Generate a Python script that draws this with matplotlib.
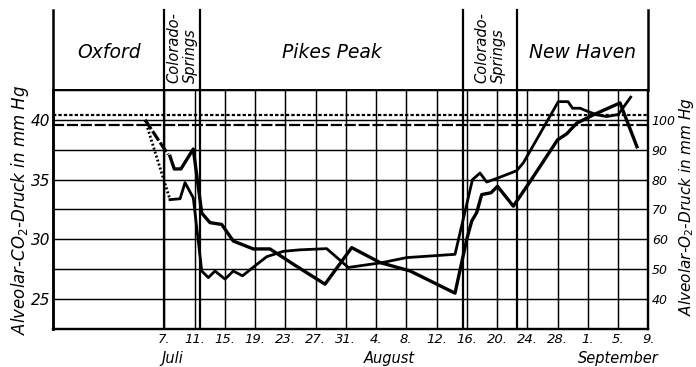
import matplotlib
matplotlib.use('Agg')
import matplotlib.pyplot as plt
import matplotlib.transforms as mtransforms
from matplotlib import font_manager as fm
import numpy as np

avail = {f.name for f in fm.fontManager.ttflist}
HAS_NARROW = 'Liberation Sans Narrow' in avail
NARROW = ['Liberation Sans Narrow', 'DejaVu Sans'] if HAS_NARROW else ['DejaVu Sans']

plt.rcParams['font.family'] = ['DejaVu Sans']
plt.rcParams['mathtext.fontset'] = 'dejavusans'
plt.rcParams['mathtext.default'] = 'it'
plt.rcParams['lines.scale_dashes'] = False

# ---------------- data ----------------
# x = day number counted from 30 June (July d = d, August d = 31+d, September d = 62+d)
tick_days = [7, 11, 15, 19, 23, 27, 31, 35, 39, 43, 47, 51, 55, 59, 63, 67, 71]
tick_labels = ['7.', '11.', '15.', '19.', '23.', '27.', '31.', '4.', '8.', '12.',
               '16.', '20.', '24.', '28.', '1.', '5.', '9.']
month_names = ['Juli', 'August', 'September']
month_pos = [8.0, 36.8, 67.0]

regions = ['Oxford', 'Colorado-\nSprings', 'Pikes Peak', 'Colorado-\nSprings', 'New Haven']
region_edges = [-7.72, 7.0, 11.75, 46.5, 53.7, 71.0]

co2_ticks = [25, 30, 35, 40]
o2_ticks = [40, 50, 60, 70, 80, 90, 100]

# normal values (horizontal reference lines)
co2_normal = 39.6      # long dashes (CO2 scale)
o2_normal = 101.7      # short dashes (O2 scale)

# alveolar CO2 (left scale) - interpolated start and measured values
co2_interp_x = [4.45, 7.5]
co2_interp_y = [40.0, 37.1]
co2_x = [7.75, 8.32, 9.2, 10.83, 11.95, 13.04, 14.59, 16.12, 18.77, 20.98, 24.06,
         28.25, 31.78, 35.52, 39.49, 45.44, 46.99, 47.65, 48.31, 48.97, 50.2, 51.06,
         53.15, 55.36, 59.0, 60.21, 61.53, 63.73, 67.26, 69.5]
co2_y = [36.95, 35.89, 35.9, 37.56, 32.2, 31.4, 31.25, 29.86, 29.2, 29.2, 27.92,
         26.25, 29.31, 28.06, 27.36, 25.5, 30.0, 31.53, 32.25, 33.75, 33.9, 34.44,
         32.78, 34.83, 38.33, 38.83, 39.72, 40.42, 41.42, 37.75]

# alveolar O2 (right scale) - interpolated start and measured values
o2_interp_x = [4.45, 7.75]
o2_interp_y = [100.0, 73.3]
o2_x = [7.75, 9.08, 9.74, 10.83, 11.95, 12.82, 13.7, 15.03, 16.12, 17.34, 18.77,
        20.54, 22.74, 24.94, 28.47, 31.33, 35.75, 39.05, 45.44, 47.75, 48.75, 49.63,
        51.17, 53.6, 54.47, 59.1, 60.38, 60.98, 61.97, 63.03, 64.18, 65.5, 67.03, 68.67]
o2_y = [73.3, 73.6, 79.0, 73.9, 49.4, 47.2, 49.4, 46.7, 49.4, 47.8, 50.7,
        54.2, 56.0, 56.5, 56.9, 50.6, 52.2, 53.9, 55.0, 80.0, 82.2, 79.2,
        80.6, 83.0, 85.6, 106.1, 106.1, 103.9, 103.9, 102.8, 101.7, 101.1, 101.8, 107.6]

# ---------------- figure ----------------
W, H = 696, 367
fig = plt.figure(figsize=(W / 100, H / 100), dpi=100)
fig.patch.set_facecolor('white')

L, R, T, B, TOPH = 53, 648.3, 90, 329, 10
ax = fig.add_axes([L / W, 1 - B / H, (R - L) / W, (B - T) / H])
ax.set_xlim(region_edges[0], region_edges[-1])
ax.set_ylim(22.5, 42.5)
ax2 = ax.twinx()
ax2.set_ylim(30, 110)

# grid
ax.set_xticks(tick_days)
ax.set_xticklabels(tick_labels, fontfamily=NARROW, fontstyle='italic',
                   fontsize=10.5 if HAS_NARROW else 9.5)
ax.tick_params(axis='x', length=0, pad=3)
ax.grid(axis='x', color='black', lw=1.05)
ax.set_yticks(co2_ticks)
ax.set_yticklabels([str(v) for v in co2_ticks], fontstyle='italic', fontsize=11)
ax.set_yticks(np.arange(22.5, 42.6, 2.5), minor=True)
ax.tick_params(axis='y', which='both', length=0, pad=2)
ax.grid(axis='y', which='both', color='black', lw=1.05)
ax.set_axisbelow(True)

ax2.set_yticks(o2_ticks)
ax2.set_yticklabels([str(v) for v in o2_ticks], fontfamily=NARROW, fontstyle='italic',
                    fontsize=10.5 if HAS_NARROW else 9)
ax2.tick_params(axis='y', length=0, pad=2.5)

for a in (ax, ax2):
    for s in a.spines.values():
        s.set_color('black')
    a.spines['left'].set_linewidth(1.8)
    a.spines['right'].set_linewidth(1.6)
    a.spines['bottom'].set_linewidth(1.6)
    a.spines['top'].set_linewidth(1.2)

# region dividers in plot
for xe in region_edges[1:-1]:
    ax.axvline(xe, color='black', lw=1.6, zorder=2)

# normal reference lines
ax.axhline(co2_normal, color='black', lw=1.6, dashes=(8, 2), zorder=3)
ax2.axhline(o2_normal, color='black', lw=1.6, dashes=(2.4, 1.5), zorder=3)

# data lines
ax.plot(co2_interp_x, co2_interp_y, color='black', lw=2.3, dashes=(8, 1.8),
        solid_capstyle='butt', zorder=4)
ax.plot(co2_x, co2_y, color='black', lw=2.4, zorder=4, solid_joinstyle='round')
ax2.plot(o2_interp_x, o2_interp_y, color='black', lw=2.0, dashes=(1.4, 1.6), zorder=4)
ax2.plot(o2_x, o2_y, color='black', lw=2.0, zorder=4, solid_joinstyle='round')

# month names
trans = mtransforms.blended_transform_factory(ax.transData, fig.transFigure)
for name, xp in zip(month_names, month_pos):
    ax.text(xp, 1 - 358 / H, name, transform=trans, ha='center', va='center',
            fontstyle='italic', fontsize=10.5, clip_on=False)

# axis labels
fig.text(20 / W, 1 - 210 / H, 'Alveolar-CO$_2$-Druck in mm Hg', rotation=90,
         ha='center', va='center', fontstyle='italic', fontsize=12)
fig.text(687 / W, 1 - 206 / H, 'Alveolar-O$_2$-Druck in mm Hg', rotation=90,
         ha='center', va='center', fontstyle='italic', fontsize=11)

# header with locations
hax = fig.add_axes([L / W, 1 - T / H, (R - L) / W, (T - TOPH) / H])
hax.set_xlim(region_edges[0], region_edges[-1])
hax.set_ylim(0, 1)
hax.axis('off')
for xe in region_edges:
    hax.axvline(xe, color='black', lw=1.8 if xe in (region_edges[0], region_edges[-1]) else 1.6,
                clip_on=False)
for i, name in enumerate(regions):
    cx = (region_edges[i] + region_edges[i + 1]) / 2
    if '\n' in name:
        hax.text(cx, 0.09, name, rotation=90, ha='center', va='bottom',
                 multialignment='left', fontstyle='italic', fontsize=10.5,
                 linespacing=1.15)
    else:
        hax.text(cx, 0.475, name, ha='center', va='center', fontstyle='italic',
                 fontsize=13.5)

fig.savefig('out.png', dpi=100, facecolor='white')
